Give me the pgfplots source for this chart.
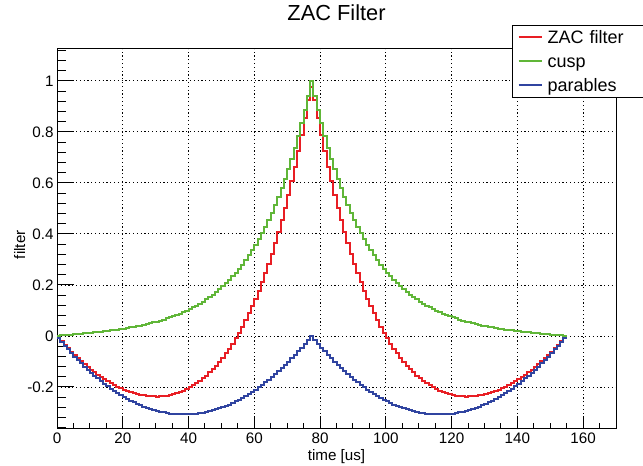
\documentclass[border=0pt]{standalone}
\usepackage{pgfplots}
\pgfplotsset{compat=1.18}
\usepackage{pgfplotstable}
\usepackage{fontspec}
\setmainfont{Liberation Sans}

\definecolor{zacred}{RGB}{232,30,36}
\definecolor{cuspgreen}{RGB}{96,182,56}
\definecolor{parblue}{RGB}{48,68,160}

% bin left edge, cusp, parables, ZAC filter (1 us bins)
\pgfplotstableread{
x g b r
0 0.0006 -0.0079 -0.0073
1 0.0017 -0.0234 -0.0217
2 0.0028 -0.0385 -0.0357
3 0.0039 -0.0531 -0.0492
4 0.0050 -0.0674 -0.0624
5 0.0062 -0.0812 -0.0750
6 0.0074 -0.0947 -0.0873
7 0.0086 -0.1077 -0.0991
8 0.0098 -0.1203 -0.1105
9 0.0111 -0.1325 -0.1214
10 0.0124 -0.1443 -0.1319
11 0.0138 -0.1557 -0.1419
12 0.0152 -0.1667 -0.1515
13 0.0167 -0.1772 -0.1605
14 0.0182 -0.1874 -0.1692
15 0.0198 -0.1971 -0.1773
16 0.0214 -0.2065 -0.1851
17 0.0232 -0.2154 -0.1922
18 0.0250 -0.2239 -0.1989
19 0.0269 -0.2320 -0.2051
20 0.0290 -0.2397 -0.2107
21 0.0311 -0.2470 -0.2159
22 0.0333 -0.2538 -0.2205
23 0.0357 -0.2603 -0.2246
24 0.0382 -0.2664 -0.2282
25 0.0408 -0.2720 -0.2312
26 0.0436 -0.2772 -0.2336
27 0.0466 -0.2821 -0.2355
28 0.0497 -0.2865 -0.2368
29 0.0530 -0.2905 -0.2375
30 0.0565 -0.2941 -0.2376
31 0.0602 -0.2972 -0.2370
32 0.0641 -0.3000 -0.2359
33 0.0683 -0.3024 -0.2341
34 0.0727 -0.3043 -0.2316
35 0.0774 -0.3058 -0.2284
36 0.0824 -0.3070 -0.2246
37 0.0876 -0.3077 -0.2201
38 0.0932 -0.3080 -0.2148
39 0.0991 -0.3079 -0.2088
40 0.1054 -0.3074 -0.2020
41 0.1121 -0.3065 -0.1944
42 0.1192 -0.3051 -0.1859
43 0.1268 -0.3034 -0.1766
44 0.1348 -0.3012 -0.1664
45 0.1432 -0.2987 -0.1555
46 0.1523 -0.2957 -0.1434
47 0.1618 -0.2923 -0.1305
48 0.1720 -0.2885 -0.1165
49 0.1828 -0.2843 -0.1015
50 0.1943 -0.2797 -0.0854
51 0.2065 -0.2747 -0.0682
52 0.2194 -0.2692 -0.0498
53 0.2332 -0.2634 -0.0302
54 0.2478 -0.2571 -0.0093
55 0.2633 -0.2505 0.0128
56 0.2798 -0.2434 0.0364
57 0.2973 -0.2359 0.0614
58 0.3160 -0.2280 0.0880
59 0.3357 -0.2197 0.1160
60 0.3567 -0.2110 0.1457
61 0.3790 -0.2018 0.1772
62 0.4028 -0.1923 0.2105
63 0.4280 -0.1824 0.2456
64 0.4547 -0.1720 0.2827
65 0.4832 -0.1612 0.3220
66 0.5134 -0.1501 0.3633
67 0.5455 -0.1385 0.4070
68 0.5796 -0.1265 0.4531
69 0.6158 -0.1141 0.5017
70 0.6543 -0.1012 0.5531
71 0.6952 -0.0880 0.6072
72 0.7386 -0.0744 0.6642
73 0.7847 -0.0603 0.7244
74 0.8338 -0.0458 0.7880
75 0.8859 -0.0310 0.8549
76 0.9412 -0.0157 0.9255
77 1.0000 -0.0020 0.9750
78 0.9412 -0.0157 0.9255
79 0.8859 -0.0310 0.8549
80 0.8338 -0.0458 0.7880
81 0.7847 -0.0603 0.7244
82 0.7386 -0.0744 0.6642
83 0.6952 -0.0880 0.6072
84 0.6543 -0.1012 0.5531
85 0.6158 -0.1141 0.5017
86 0.5796 -0.1265 0.4531
87 0.5455 -0.1385 0.4070
88 0.5134 -0.1501 0.3633
89 0.4832 -0.1612 0.3220
90 0.4547 -0.1720 0.2827
91 0.4280 -0.1824 0.2456
92 0.4028 -0.1923 0.2105
93 0.3790 -0.2018 0.1772
94 0.3567 -0.2110 0.1457
95 0.3357 -0.2197 0.1160
96 0.3160 -0.2280 0.0880
97 0.2973 -0.2359 0.0614
98 0.2798 -0.2434 0.0364
99 0.2633 -0.2505 0.0128
100 0.2478 -0.2571 -0.0093
101 0.2332 -0.2634 -0.0302
102 0.2194 -0.2692 -0.0498
103 0.2065 -0.2747 -0.0682
104 0.1943 -0.2797 -0.0854
105 0.1828 -0.2843 -0.1015
106 0.1720 -0.2885 -0.1165
107 0.1618 -0.2923 -0.1305
108 0.1523 -0.2957 -0.1434
109 0.1432 -0.2987 -0.1555
110 0.1348 -0.3012 -0.1664
111 0.1268 -0.3034 -0.1766
112 0.1192 -0.3051 -0.1859
113 0.1121 -0.3065 -0.1944
114 0.1054 -0.3074 -0.2020
115 0.0991 -0.3079 -0.2088
116 0.0932 -0.3080 -0.2148
117 0.0876 -0.3077 -0.2201
118 0.0824 -0.3070 -0.2246
119 0.0774 -0.3058 -0.2284
120 0.0727 -0.3043 -0.2316
121 0.0683 -0.3024 -0.2341
122 0.0641 -0.3000 -0.2359
123 0.0602 -0.2972 -0.2370
124 0.0565 -0.2941 -0.2376
125 0.0530 -0.2905 -0.2375
126 0.0497 -0.2865 -0.2368
127 0.0466 -0.2821 -0.2355
128 0.0436 -0.2772 -0.2336
129 0.0408 -0.2720 -0.2312
130 0.0382 -0.2664 -0.2282
131 0.0357 -0.2603 -0.2246
132 0.0333 -0.2538 -0.2205
133 0.0311 -0.2470 -0.2159
134 0.0290 -0.2397 -0.2107
135 0.0269 -0.2320 -0.2051
136 0.0250 -0.2239 -0.1989
137 0.0232 -0.2154 -0.1922
138 0.0214 -0.2065 -0.1851
139 0.0198 -0.1971 -0.1773
140 0.0182 -0.1874 -0.1692
141 0.0167 -0.1772 -0.1605
142 0.0152 -0.1667 -0.1515
143 0.0138 -0.1557 -0.1419
144 0.0124 -0.1443 -0.1319
145 0.0111 -0.1325 -0.1214
146 0.0098 -0.1203 -0.1105
147 0.0086 -0.1077 -0.0991
148 0.0074 -0.0947 -0.0873
149 0.0062 -0.0812 -0.0750
150 0.0050 -0.0674 -0.0624
151 0.0039 -0.0531 -0.0492
152 0.0028 -0.0385 -0.0357
153 0.0017 -0.0234 -0.0217
154 0.0006 -0.0079 -0.0073
155 0.0006 -0.0079 -0.0073
}\zactable

\begin{document}
\begin{tikzpicture}
\useasboundingbox (0,0) rectangle (643bp,466bp);
\begin{axis}[
  at={(57bp,37bp)}, anchor=south west,
  scale only axis, width=559bp, height=380bp,
  xmin=0, xmax=170, ymin=-0.365, ymax=1.125,
  xtick={0,20,...,160}, minor xtick={0,5,...,170},
  ytick={-0.2,0,0.2,0.4,0.6,0.8,1},
  minor ytick={-0.36,-0.32,...,1.12},
  xtick pos=bottom, ytick pos=left,
  tick align=inside,
  tick style={black, line width=1bp},
  xtick style={/pgfplots/major tick length=11bp, /pgfplots/minor tick length=5.5bp},
  ytick style={/pgfplots/major tick length=17bp, /pgfplots/minor tick length=8.5bp},
  axis line style={black, line width=1bp},
  grid=major,
  grid style={black, line width=0.8bp, dash pattern=on 1.2bp off 2.6bp},
  /pgf/number format/assume math mode=true,
  tick label style={font=\fontsize{15.2bp}{17bp}\selectfont},
  title={ZAC Filter},
  title style={at={(axis description cs:0.5,1.0587)}, anchor=base, inner sep=0pt,
    font=\fontsize{21.8bp}{24bp}\selectfont},
  xlabel={time [us]},
  xlabel style={at={(axis description cs:0.5,-0.0816)}, anchor=base, inner sep=0pt,
    font=\fontsize{15.2bp}{17bp}\selectfont},
  ylabel={filter},
  ylabel style={at={(axis description cs:-0.0572,0.485)}, anchor=base, inner sep=0pt,
    font=\fontsize{15.2bp}{17bp}\selectfont},
  legend cell align=left,
  legend style={at={(0.814,1.0632)}, anchor=north west,
    draw=black, line width=1bp, fill=white,
    inner xsep=5bp, inner ysep=0bp, row sep=0pt,
    font=\fontsize{18bp}{20bp}\selectfont,
    nodes={inner xsep=5bp, inner ysep=0bp, text height=18bp, text depth=6bp, text width=87bp}},
]
\addplot[const plot mark left, color=zacred, line width=2bp, forget plot] table[x=x, y=r] {\zactable};
\addplot[const plot mark left, color=cuspgreen, line width=2bp, forget plot] table[x=x, y=g] {\zactable};
\addplot[const plot mark left, color=parblue, line width=2bp, forget plot] table[x=x, y=b] {\zactable};
\addlegendimage{legend image code/.code={\draw[draw=zacred, line width=2bp] (0bp,0bp) -- (23bp,0bp);}}
\addlegendentry{ZAC filter}
\addlegendimage{legend image code/.code={\draw[draw=cuspgreen, line width=2bp] (0bp,0bp) -- (23bp,0bp);}}
\addlegendentry{cusp}
\addlegendimage{legend image code/.code={\draw[draw=parblue, line width=2bp] (0bp,0bp) -- (23bp,0bp);}}
\addlegendentry{parables}
\end{axis}
\end{tikzpicture}
\end{document}
